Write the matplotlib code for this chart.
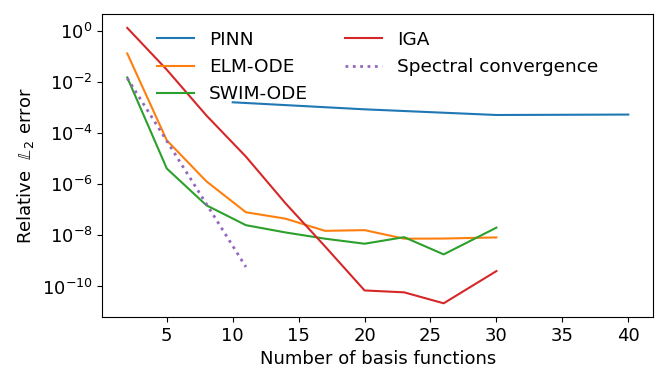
import matplotlib
matplotlib.use('Agg')
import matplotlib.pyplot as plt

# basis function counts
n_pinn = [10, 20, 30, 40]
n_methods = [2, 5, 8, 11, 14, 17, 20, 23, 26, 30]
n_spectral = [2, 5, 8, 11]

# relative L2 errors
err_pinn = [1.6e-3, 8.5e-4, 5.1e-4, 5.3e-4]
err_elm = [1.3e-1, 5.2e-5, 1.3e-6, 8.0e-8, 4.5e-8, 1.5e-8, 1.6e-8, 7.4e-9, 7.5e-9, 8.3e-9]
err_swim = [1.5e-2, 4.1e-6, 1.5e-7, 2.5e-8, 1.3e-8, 7.4e-9, 4.7e-9, 8.5e-9, 1.8e-9, 2.0e-8]
err_iga = [1.3e0, 3.0e-2, 4.9e-4, 1.2e-5, 1.8e-7, 3.7e-9, 7.0e-11, 5.9e-11, 2.2e-11, 4.0e-10]
err_spectral = [1.4e-2, 4.9e-5, 1.7e-7, 5.8e-10]

plt.rcParams['font.size'] = 13

fig = plt.figure(figsize=(6.68, 3.82), dpi=100)
ax = fig.add_axes([0.153, 0.170, 0.825, 0.793])

ax.plot(n_pinn, err_pinn, color='tab:blue', label='PINN')
ax.plot(n_methods, err_elm, color='tab:orange', label='ELM-ODE')
ax.plot(n_methods, err_swim, color='tab:green', label='SWIM-ODE')
ax.plot(n_methods, err_iga, color='tab:red', label='IGA')
ax.plot(n_spectral, err_spectral, color='tab:purple', linestyle=':', linewidth=2,
        label='Spectral convergence')

ax.set_yscale('log')
ax.set_xticks([5, 10, 15, 20, 25, 30, 35, 40])
ax.set_yticks([1e0, 1e-2, 1e-4, 1e-6, 1e-8, 1e-10])
ax.minorticks_off()
ax.set_xlabel('Number of basis functions')
ax.set_ylabel(r'Relative  $\mathbb{L}_2$ error')
ax.legend(ncol=2, loc='upper center', frameon=False, fontsize=13.3,
          bbox_to_anchor=(0.5, 1.0), columnspacing=2.0)

fig.savefig('out.png', dpi=100)
